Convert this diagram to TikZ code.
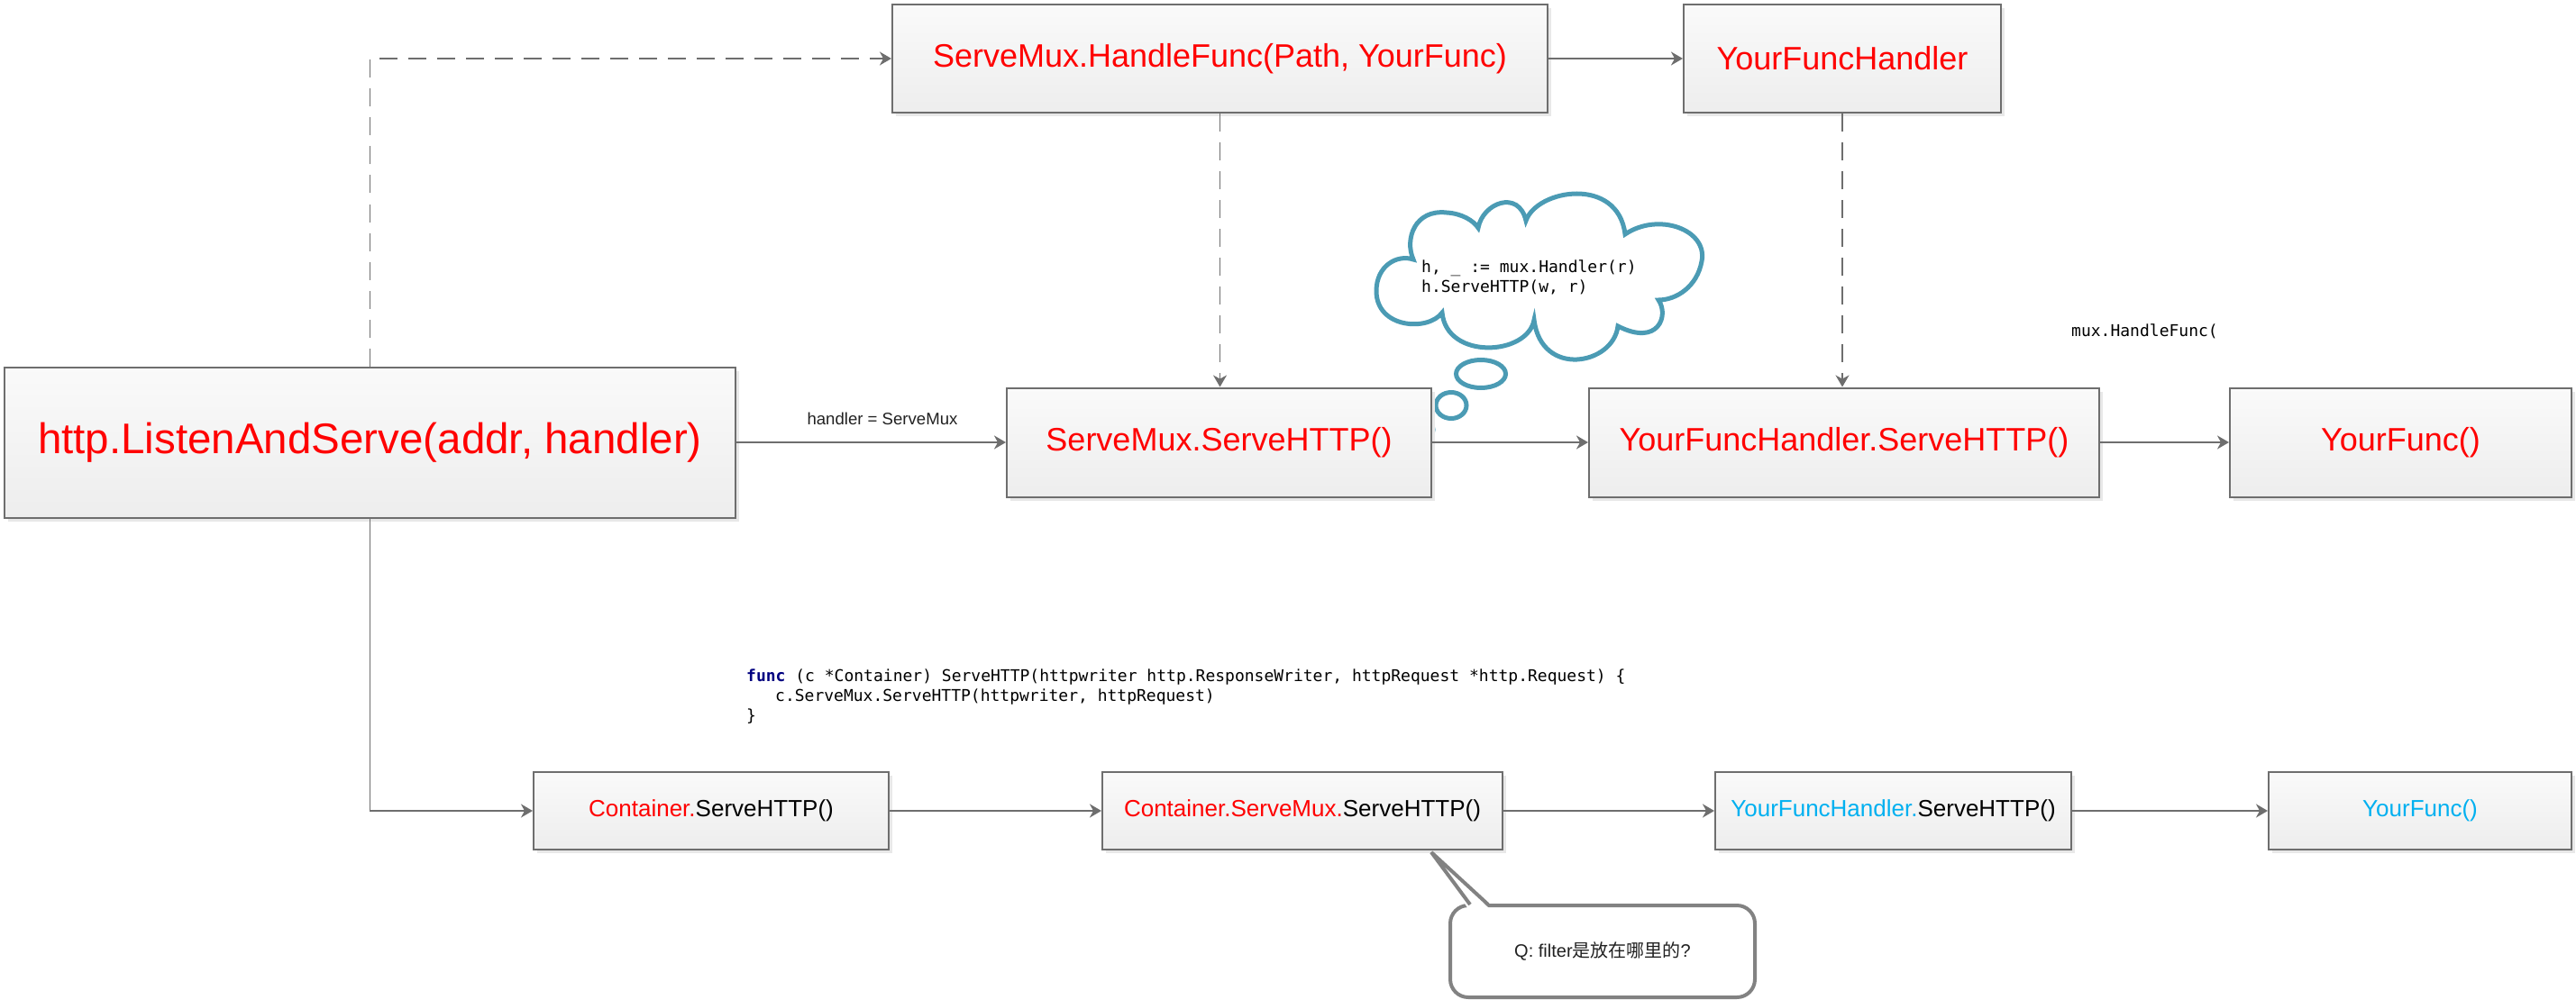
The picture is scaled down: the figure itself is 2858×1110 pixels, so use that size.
\documentclass[tikz,border=0pt]{standalone}
\usepackage{fontspec}
\setmainfont{Liberation Sans}
\newfontfamily\codefont{DejaVu Sans Mono}
\newfontfamily\cjk{Noto Sans CJK SC}
\usetikzlibrary{arrows.meta}
\usetikzlibrary{shadows}

\begin{document}
\begin{tikzpicture}[x=1pt,y=-1pt,
  funcbox/.style={draw=BoxLine, line width=2pt, top color=white!98!black, bottom color=white!93!black,
    drop shadow={shadow xshift=4pt, shadow yshift=-4pt, fill=black!9, opacity=1},
    inner sep=0pt, text=red},
  bigtext/.style={font=\fontsize{36}{40}\selectfont},
  smalltext/.style={font=\fontsize{26}{30}\selectfont, text=black},
  flow/.style={draw=BoxLine, line width=2pt, -{Stealth[length=13pt,width=15pt,inset=4pt]}},
  linkflow/.style={flow, line width=1.5pt},
  dashflow/.style={flow, line width=1.5pt, dash pattern=on 20pt off 12pt},
  codeline/.style={anchor=base west, inner sep=0pt, font=\codefont\fontsize{18}{22}\selectfont},
  thought/.style={draw=CloudBlue, line width=5pt, fill=white},
  askbubble/.style={draw=AskLine, line width=4pt, fill=white, rounded corners=20pt,
    inner sep=0pt, text=black!87, font=\fontsize{20}{24}\selectfont}
]
\definecolor{BoxLine}{RGB}{110,110,110}
\definecolor{AskLine}{RGB}{130,130,130}
\definecolor{CloudBlue}{RGB}{75,155,180}
\definecolor{SkyText}{RGB}{0,176,240}
\definecolor{KeyBlue}{RGB}{0,0,128}

\useasboundingbox (0,0) rectangle (2858,1110);

% thought cloud
\draw[thought] (1582,477) ellipse (8 and 8);
\draw[thought] (1610,450) ellipse (17 and 14.5);
\draw[thought] (1643,415) ellipse (27.5 and 15.5);
\draw[thought] (1600,347) .. controls (1585,368) and (1527,365) .. (1527,323)
  .. controls (1527,295) and (1550,282) .. (1568,288)
  .. controls (1558,265) and (1570,232) .. (1605,236)
  .. controls (1622,237) and (1635,245) .. (1640,253)
  .. controls (1645,225) and (1685,210) .. (1693,245)
  .. controls (1705,210) and (1795,195) .. (1803,260)
  .. controls (1840,235) and (1895,255) .. (1888,290)
  .. controls (1883,318) and (1860,333) .. (1840,333)
  .. controls (1852,350) and (1840,385) .. (1795,362)
  .. controls (1790,405) and (1710,420) .. (1702,355)
  .. controls (1695,395) and (1605,400) .. (1600,347) -- cycle;
\node[codeline] (cloud1) at (1577,302) {h, \_ := mux.Handler(r)};
\node[codeline] (cloud2) at (1577,324) {h.ServeHTTP(w, r)};

% upper flow
\node[funcbox, minimum width=811pt, minimum height=167pt, font=\fontsize{47.5}{52}\selectfont] (listen) at (410.5,491) {http.ListenAndServe(addr, handler)};
\node[funcbox, bigtext, minimum width=727pt, minimum height=120pt] (handle) at (1353.5,65) {ServeMux.HandleFunc(Path, YourFunc)};
\node[funcbox, bigtext, minimum width=352pt, minimum height=120pt] (yfh) at (2044,65) {YourFuncHandler};
\node[funcbox, bigtext, minimum width=471pt, minimum height=121pt] (mux) at (1352.5,491) {ServeMux.ServeHTTP()};
\node[funcbox, bigtext, minimum width=566pt, minimum height=121pt] (yfhserve) at (2046,491) {YourFuncHandler.ServeHTTP()};
\node[funcbox, bigtext, minimum width=379pt, minimum height=121pt] (yourfunc) at (2663.5,491) {YourFunc()};

\node[font=\fontsize{18.6}{22}\selectfont, text=black!87] (hlabel) at (979,465) {handler = ServeMux};
\node[codeline] (muxcall) at (2298,373) {mux.HandleFunc(};

\draw[dashflow] (listen.north) |- (handle.west);
\draw[flow] (handle) -- (yfh);
\draw[dashflow] (handle.south) -- (handle.south |- mux.north);
\draw[dashflow] (yfh.south) -- (yfh.south |- yfhserve.north);
\draw[flow] (listen) -- (mux);
\draw[flow] (mux) -- (yfhserve);
\draw[flow] (yfhserve) -- (yourfunc);

% lower flow
\node[codeline] (code1) at (828,756) {{\bfseries\color{KeyBlue}func} (c *Container) ServeHTTP(httpwriter http.ResponseWriter, httpRequest *http.Request) \{};
\node[codeline] (code2) at (860,778) {c.ServeMux.ServeHTTP(httpwriter, httpRequest)};
\node[codeline] (code3) at (828,800) {\}};

\node[funcbox, smalltext, minimum width=394pt, minimum height=86pt] (cont) at (789,900) {{\color{red}Container.}ServeHTTP()};
\node[funcbox, smalltext, minimum width=444pt, minimum height=86pt] (cmux) at (1445,900) {{\color{red}Container.ServeMux.}ServeHTTP()};
\node[funcbox, smalltext, minimum width=395pt, minimum height=86pt] (byfh) at (2100.5,900) {{\color{SkyText}YourFuncHandler.}ServeHTTP()};
\node[funcbox, smalltext, minimum width=336pt, minimum height=86pt, text=SkyText] (bfunc) at (2685,900) {YourFunc()};

\draw[linkflow] (listen.south) |- (cont.west);
\draw[flow] (cont) -- (cmux);
\draw[flow] (cmux) -- (byfh);
\draw[flow] (byfh) -- (bfunc);

% question bubble
\node[askbubble, minimum width=338pt, minimum height=102pt] (ask) at (1778,1056) {Q: filter{\cjk 是放在哪里的}?};
\coordinate (tip) at (1588,946);
\fill[white] (1629,1009) -- (tip) -- (1653,1009) -- cycle;
\draw[draw=AskLine, line width=4pt] (1631,1004) -- (tip) -- (1651,1004);

\end{tikzpicture}
\end{document}
